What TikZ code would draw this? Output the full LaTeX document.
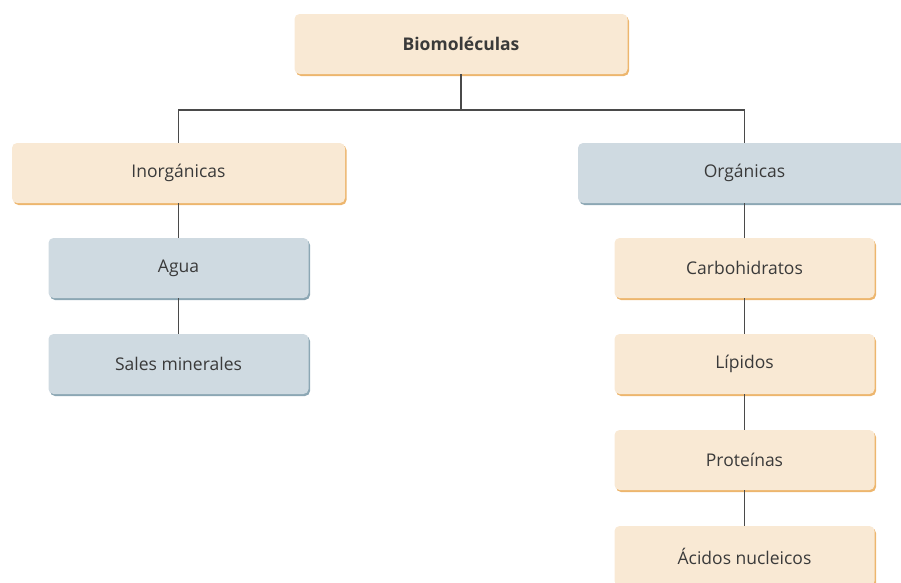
\documentclass[tikz,border=0pt]{standalone}
\usepackage{fontspec}
\setmainfont{Open Sans}
\usetikzlibrary{shadows}
\definecolor{crema}{HTML}{F9E9D4}
\definecolor{cremaborde}{HTML}{EDB66E}
\definecolor{gris}{HTML}{CFDAE1}
\definecolor{grisborde}{HTML}{8CA7B4}
\definecolor{linea}{HTML}{4A4A4A}
\definecolor{texto}{HTML}{3A3A3A}
\begin{document}
\begin{tikzpicture}[x=1pt,y=-1pt,
    caja/.style={rounded corners=5pt,minimum height=60pt,minimum width=260pt,
        text=texto,font=\fontsize{17.5}{20}\selectfont},
    cajacrema/.style={caja,fill=crema,
        drop shadow={shadow xshift=1.5pt,shadow yshift=-2pt,fill=cremaborde,opacity=1}},
    cajagris/.style={caja,fill=gris,
        drop shadow={shadow xshift=1.5pt,shadow yshift=-2pt,fill=grisborde,opacity=1}},
    rama/.style={draw=linea,line width=1.1pt}]
    \useasboundingbox (0,0) rectangle (901,582);
    % raiz
    \node[cajacrema,minimum width=333pt,font=\fontsize{17.5}{20}\selectfont\bfseries] (bio) at (461,44) {Biomoléculas};
    % dos ramas
    \node[cajacrema,minimum width=333pt] (inorg) at (178.5,173) {Inorgánicas};
    \node[cajagris,minimum width=333pt] (org) at (744.5,173) {Orgánicas};
    % inorganicas
    \node[cajagris] (agua) at (178.5,268) {Agua};
    \node[cajagris] (sales) at (178.5,364) {Sales minerales};
    % organicas
    \node[cajacrema] (carbo) at (744.5,268) {Carbohidratos};
    \node[cajacrema] (lip) at (744.5,364) {Lípidos};
    \node[cajacrema] (prot) at (744.5,460) {Proteínas};
    \node[cajacrema] (acidos) at (744.5,556) {Ácidos nucleicos};
    \coordinate (cruce) at (461,110);
    \draw[rama] (bio.south) -- (cruce) -| (inorg.north);
    \draw[rama] (cruce) -| (org.north);
    \draw[rama] (inorg) -- (agua);
    \draw[rama] (agua) -- (sales);
    \draw[rama] (org) -- (carbo);
    \draw[rama] (carbo) -- (lip);
    \draw[rama] (lip) -- (prot);
    \draw[rama] (prot) -- (acidos);
\end{tikzpicture}
\end{document}
